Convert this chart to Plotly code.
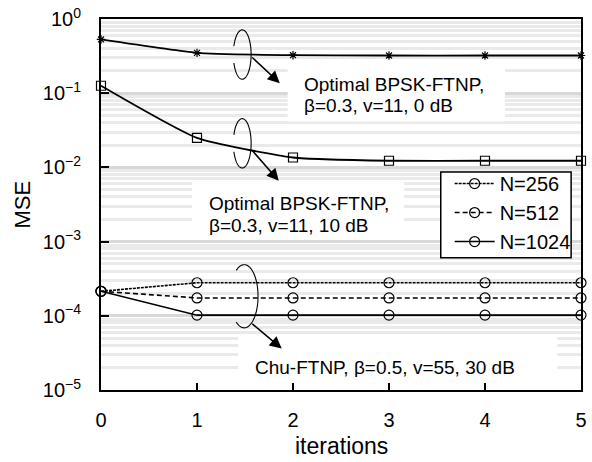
import math
import plotly.graph_objects as go

# ---------------- data ----------------
iterations = [0, 1, 2, 3, 4, 5]
mse_bpsk_0db = [0.53, 0.35, 0.325, 0.322, 0.322, 0.322]
mse_bpsk_10db = [0.126, 0.025, 0.0136, 0.0123, 0.0123, 0.0123]
mse_chu_256 = [2.14e-4, 2.79e-4, 2.79e-4, 2.79e-4, 2.79e-4, 2.79e-4]
mse_chu_512 = [2.14e-4, 1.74e-4, 1.74e-4, 1.74e-4, 1.74e-4, 1.74e-4]
mse_chu_1024 = [2.14e-4, 1.02e-4, 1.02e-4, 1.02e-4, 1.02e-4, 1.02e-4]
legend_names = ["N=256", "N=512", "N=1024"]
ytick_vals = [1e0, 1e-1, 1e-2, 1e-3, 1e-4, 1e-5]
ytick_text = ["10<sup>0</sup>", "10<sup>\u22121</sup>", "10<sup>\u22122</sup>",
              "10<sup>\u22123</sup>", "10<sup>\u22124</sup>", "10<sup>\u22125</sup>"]
label_0db = ["Optimal BPSK-FTNP,", "\u03b2=0.3, v=11, 0 dB"]
label_10db = ["Optimal BPSK-FTNP,", "\u03b2=0.3, v=11, 10 dB"]
label_chu = "Chu-FTNP, \u03b2=0.5, v=55, 30 dB"

# ---------------- layout geometry (pixels) ----------------
W_FIG, H_FIG = 592, 462
L, R, T, B = 101, 587, 14, 390
PW, PH = R - L, B - T
X_RANGE = [0, 5]
Y_RANGE_LOG = [-5, 0]
FONT = "Arial, Liberation Sans, sans-serif"


def px(xp):
    return (xp - L) / PW


def py(yp):
    return (B - yp) / PH


def pdx(xp):
    return X_RANGE[0] + px(xp) * (X_RANGE[1] - X_RANGE[0])


def pdy(yp):
    return 10 ** (Y_RANGE_LOG[0] + py(yp) * (Y_RANGE_LOG[1] - Y_RANGE_LOG[0]))


def ellipse_path(cx, cy, rx, ry, ranges, n=40):
    parts = []
    for a0, a1 in ranges:
        pts = []
        for i in range(n + 1):
            a = math.radians(a0 + (a1 - a0) * i / n)
            pts.append((px(cx + rx * math.cos(a)), py(cy - ry * math.sin(a))))
        s = "M %.5f,%.5f " % pts[0] + " ".join("L %.5f,%.5f" % p for p in pts[1:])
        parts.append(s)
    return " ".join(parts)


fig = go.Figure()

# BPSK curves (not in legend)
fig.add_trace(go.Scatter(
    x=iterations, y=mse_bpsk_0db, mode="lines+markers", showlegend=False,
    line=dict(color="black", width=1.8, shape="spline", smoothing=0.5),
    marker=dict(symbol="asterisk-open", size=7, line=dict(color="black", width=1.2)),
    cliponaxis=False))
fig.add_trace(go.Scatter(
    x=iterations, y=mse_bpsk_10db, mode="lines+markers", showlegend=False,
    line=dict(color="black", width=1.8, shape="spline", smoothing=0.5),
    marker=dict(symbol="square-open", size=9, line=dict(color="black", width=1.2)),
    cliponaxis=False))

# Chu curves
chu_series = [mse_chu_256, mse_chu_512, mse_chu_1024]
dashes = ["3px,1px", "5px,3px", "solid"]
for name, vals, dash in zip(legend_names, chu_series, dashes):
    fig.add_trace(go.Scatter(
        x=iterations, y=vals, mode="lines+markers", name=name, legendgroup=name,
        line=dict(color="black", width=1.6, dash=dash),
        marker=dict(symbol="circle-open", size=10, line=dict(color="black", width=1.2)),
        cliponaxis=False))

annotations = []
shapes = []

# white boxes behind the text labels (between gridlines and traces)
boxes = [(290, 62, 510, 118), (193, 178, 408, 236), (240, 335, 563, 380)]
for x0, y0, x1, y1 in boxes:
    shapes.append(dict(
        type="rect", xref="x", yref="y",
        x0=pdx(x0), x1=pdx(x1), y0=pdy(y1), y1=pdy(y0),
        fillcolor="white", line=dict(width=0), layer="between"))

# text labels
text_lines = [
    (label_0db[0], 305, 80), (label_0db[1], 305, 102),
    (label_10db[0], 208, 201), (label_10db[1], 208, 223),
    (label_chu, 255, 367),
]
for txt, x0, yc in text_lines:
    annotations.append(dict(
        xref="paper", yref="paper", x=px(x0), y=py(yc), xanchor="left", yanchor="middle",
        text=txt, showarrow=False, height=19, valign="middle",
        font=dict(family=FONT, size=19, color="black")))

# arrows
arrows = [((253, 52), (282, 79)), ((253, 146), (281, 178)), ((253, 322), (284, 348))]
for (tx, ty), (hx, hy) in arrows:
    annotations.append(dict(
        xref="paper", yref="paper", x=px(hx), y=py(hy), ax=tx - hx, ay=ty - hy,
        text="", showarrow=True, arrowhead=2, arrowsize=1.6, arrowwidth=1.5,
        arrowcolor="black", standoff=0, startstandoff=0))

# axis titles
annotations.append(dict(
    xref="paper", yref="paper", x=px(22), y=py(202), text="MSE", textangle=-90,
    showarrow=False, xanchor="center", yanchor="middle",
    font=dict(family=FONT, size=22, color="black")))
annotations.append(dict(
    xref="paper", yref="paper", x=px(344), y=py(447), text="iterations",
    showarrow=False, xanchor="center", yanchor="middle",
    font=dict(family=FONT, size=23, color="black")))

# ellipses
ell = [
    (244, 50, 9, 25, [(-90, 90), (90, 160), (200, 270)]),
    (244, 140, 9, 25, [(-90, 90), (90, 160), (200, 270)]),
    (246, 295, 14, 32, [(-90, 90), (90, 125), (235, 270)]),
]
for cx, cy, rx, ry, rng in ell:
    shapes.append(dict(type="path", xref="paper", yref="paper",
                       path=ellipse_path(cx, cy, rx, ry, rng),
                       line=dict(color="black", width=1.1), layer="above"))

# legend frame
shapes.append(dict(type="rect", xref="paper", yref="paper",
                   x0=px(445), x1=px(577), y0=py(256), y1=py(169),
                   fillcolor="white", line=dict(color="black", width=1.5), layer="above"))

fig.update_layout(
    width=W_FIG, height=H_FIG,
    margin=dict(l=L, r=W_FIG - R, t=T, b=H_FIG - B, pad=0),
    paper_bgcolor="white", plot_bgcolor="white",
    font=dict(family=FONT, size=20, color="black"),
    annotations=annotations, shapes=shapes,
    legend=dict(
        x=px(454), y=py(161), xanchor="left", yanchor="top",
        bgcolor="rgba(0,0,0,0)", borderwidth=0,
        font=dict(family=FONT, size=20, color="black"),
        itemwidth=40, tracegroupgap=0),
    showlegend=True,
)

fig.update_xaxes(
    range=X_RANGE, tickvals=iterations, showgrid=False, zeroline=False,
    showline=True, linecolor="black", linewidth=2, mirror=True,
    ticks="inside", ticklen=7, tickwidth=1.5, tickcolor="black",
    ticklabelstandoff=11, ticklabeloverflow="allow",
    tickfont=dict(family=FONT, size=20, color="black"))

fig.update_yaxes(
    type="log", range=Y_RANGE_LOG, tickvals=ytick_vals, ticktext=ytick_text,
    showgrid=True, gridcolor="#d8d8d8", gridwidth=3, zeroline=False,
    showline=True, linecolor="black", linewidth=2, mirror=True,
    ticks="inside", ticklen=8, tickwidth=1.5, tickcolor="black",
    ticklabelstandoff=14, ticklabeloverflow="allow",
    tickfont=dict(family=FONT, size=20, color="black"),
    minor=dict(showgrid=True, gridcolor="#eaeaea", gridwidth=2.5, dtick="D1", ticks=""))

fig.write_html("out.html")
